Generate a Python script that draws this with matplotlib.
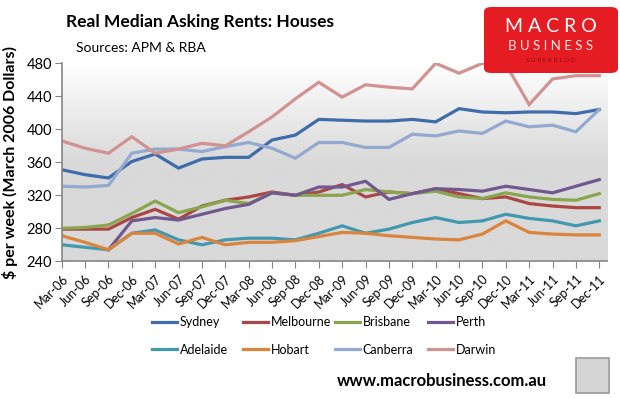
import numpy as np
import matplotlib
matplotlib.use("Agg")
import matplotlib.pyplot as plt
from matplotlib.patches import FancyBboxPatch, Rectangle
from matplotlib.colors import LinearSegmentedColormap

plt.rcParams['font.family'] = ['Lato', 'DejaVu Sans']

quarters = ["Mar-06", "Jun-06", "Sep-06", "Dec-06", "Mar-07", "Jun-07", "Sep-07", "Dec-07",
            "Mar-08", "Jun-08", "Sep-08", "Dec-08", "Mar-09", "Jun-09", "Sep-09", "Dec-09",
            "Mar-10", "Jun-10", "Sep-10", "Dec-10", "Mar-11", "Jun-11", "Sep-11", "Dec-11"]

sydney = [351, 345, 341, 361, 370, 353, 364, 366, 366, 387, 393, 412, 411, 410, 410, 412,
          409, 425, 421, 420, 421, 421, 419, 424]
melbourne = [279, 279, 279, 293, 303, 291, 307, 314, 318, 324, 320, 324, 333, 318, 324, 322,
             328, 322, 316, 318, 310, 307, 305, 305]
brisbane = [280, 281, 284, 298, 313, 299, 306, 314, 310, 323, 320, 320, 320, 327, 324, 322,
            325, 318, 316, 323, 318, 315, 314, 322]
perth = [np.nan, np.nan, 254, 289, 293, 290, 297, 304, 309, 323, 320, 330, 330, 337, 315, 322,
         328, 327, 325, 331, 327, 323, 331, 339]
adelaide = [260, 257, 254, 274, 278, 266, 260, 266, 268, 268, 266, 274, 283, 274, 279, 287,
            293, 287, 289, 297, 292, 289, 283, 289]
hobart = [271, 263, 254, 274, 274, 261, 269, 260, 263, 263, 265, 270, 275, 274, 271, 269,
          267, 266, 273, 289, 275, 273, 272, 272]
canberra = [331, 330, 332, 371, 376, 376, 373, 379, 384, 377, 365, 384, 384, 378, 378, 394,
            392, 398, 395, 410, 403, 405, 397, 424]
darwin = [386, 377, 371, 391, 371, 376, 383, 380, 397, 415, 437, 457, 439, 454, 451, 449,
          480, 468, 480, 479, 430, 461, 465, 465]

series = [("Sydney", sydney, "#3f6daa"), ("Melbourne", melbourne, "#aa4643"),
          ("Brisbane", brisbane, "#89a54e"), ("Perth", perth, "#71588f"),
          ("Adelaide", adelaide, "#4198af"), ("Hobart", hobart, "#db843d"),
          ("Canberra", canberra, "#93a9cf"), ("Darwin", darwin, "#d19392")]

W, H = 620, 398
fig = plt.figure(figsize=(W / 100, H / 100), dpi=100)
ax = fig.add_axes([61.7 / W, 1 - 261.3 / H, (607 - 61.7) / W, (261.3 - 63.3) / H])

# gradient plot background
cmap = LinearSegmentedColormap.from_list("bg", [(0, "#d9d9d9"), (0.5, "#d9d9d9"), (1, "#ffffff")])
grad = np.linspace(0, 1, 256).reshape(-1, 1)
ax.imshow(grad, extent=[0, 1, 0, 1], transform=ax.transAxes, aspect='auto',
          cmap=cmap, origin='lower', zorder=0)

x = np.arange(len(quarters))
handles = {}
for name, vals, col in series:
    ln, = ax.plot(x, vals, color=col, lw=2.3, label=name, zorder=2, solid_joinstyle='miter')
    handles[name] = ln

ax.set_xlim(0, 23.33)
ax.set_ylim(240, 480)
ax.set_yticks(range(240, 481, 40))
ax.set_xticks(x)
ax.set_xticklabels(quarters, rotation=45, ha='right', rotation_mode='anchor', fontsize=9)
ax.tick_params(axis='y', labelsize=10.5, length=5, color='#868686', pad=2)
ax.tick_params(axis='x', length=5, color='#868686', pad=3)
for s in ['top', 'right']:
    ax.spines[s].set_visible(False)
for s in ['left', 'bottom']:
    ax.spines[s].set_color('#868686')
    ax.spines[s].set_linewidth(1.2)

ax.set_ylabel("$ per week (March 2006 Dollars)", fontsize=11.5, fontweight='bold', labelpad=6)

# legend: four fixed columns, two rows each
columns = [("Sydney", "Adelaide"), ("Melbourne", "Hobart"),
           ("Brisbane", "Canberra"), ("Perth", "Darwin")]
col_x = [152, 243, 335, 428]
for names, cx in zip(columns, col_x):
    fig.legend([handles[n] for n in names], names, ncol=1, frameon=False,
               loc='upper left', bbox_to_anchor=(cx / W, 1 - 316 / H), fontsize=9,
               borderpad=0, borderaxespad=0, handlelength=2.0, handletextpad=0.2,
               labelspacing=1.25)

fig.text(66 / W, 1 - 22 / H, "Real Median Asking Rents: Houses", fontsize=12.5,
         fontweight='bold', va='center', ha='left')
fig.text(76 / W, 1 - 48 / H, "Sources: APM & RBA", fontsize=10, va='center', ha='left')
fig.text(442 / W, 1 - 381 / H, "www.macrobusiness.com.au", fontsize=12,
         fontweight='bold', va='center', ha='center')

# logo box
logo = FancyBboxPatch((484 / W, 1 - 73 / H), 134 / W, 66 / H,
                      boxstyle="round,pad=0,rounding_size=0.012", transform=fig.transFigure,
                      facecolor='#e61c23', edgecolor='none')
fig.patches.append(logo)
fig.text(551 / W, 1 - 27 / H, "M A C R O", fontsize=14, color='white',
         ha='center', va='center')
fig.text(551 / W, 1 - 46 / H, "B U S I N E S S", fontsize=9.5, color='#fde8e8',
         ha='center', va='center')
fig.text(551 / W, 1 - 60 / H, "S U P E R B L O G", fontsize=4.5, color='#8e0b0f',
         ha='center', va='center')

fig.patches.append(Rectangle((576 / W, 1 - 393 / H), 33 / W, 35 / H, transform=fig.transFigure,
                             facecolor='#d4d4d4', edgecolor='#9a9a9a', lw=1.2))

fig.savefig("out.png", dpi=100)
